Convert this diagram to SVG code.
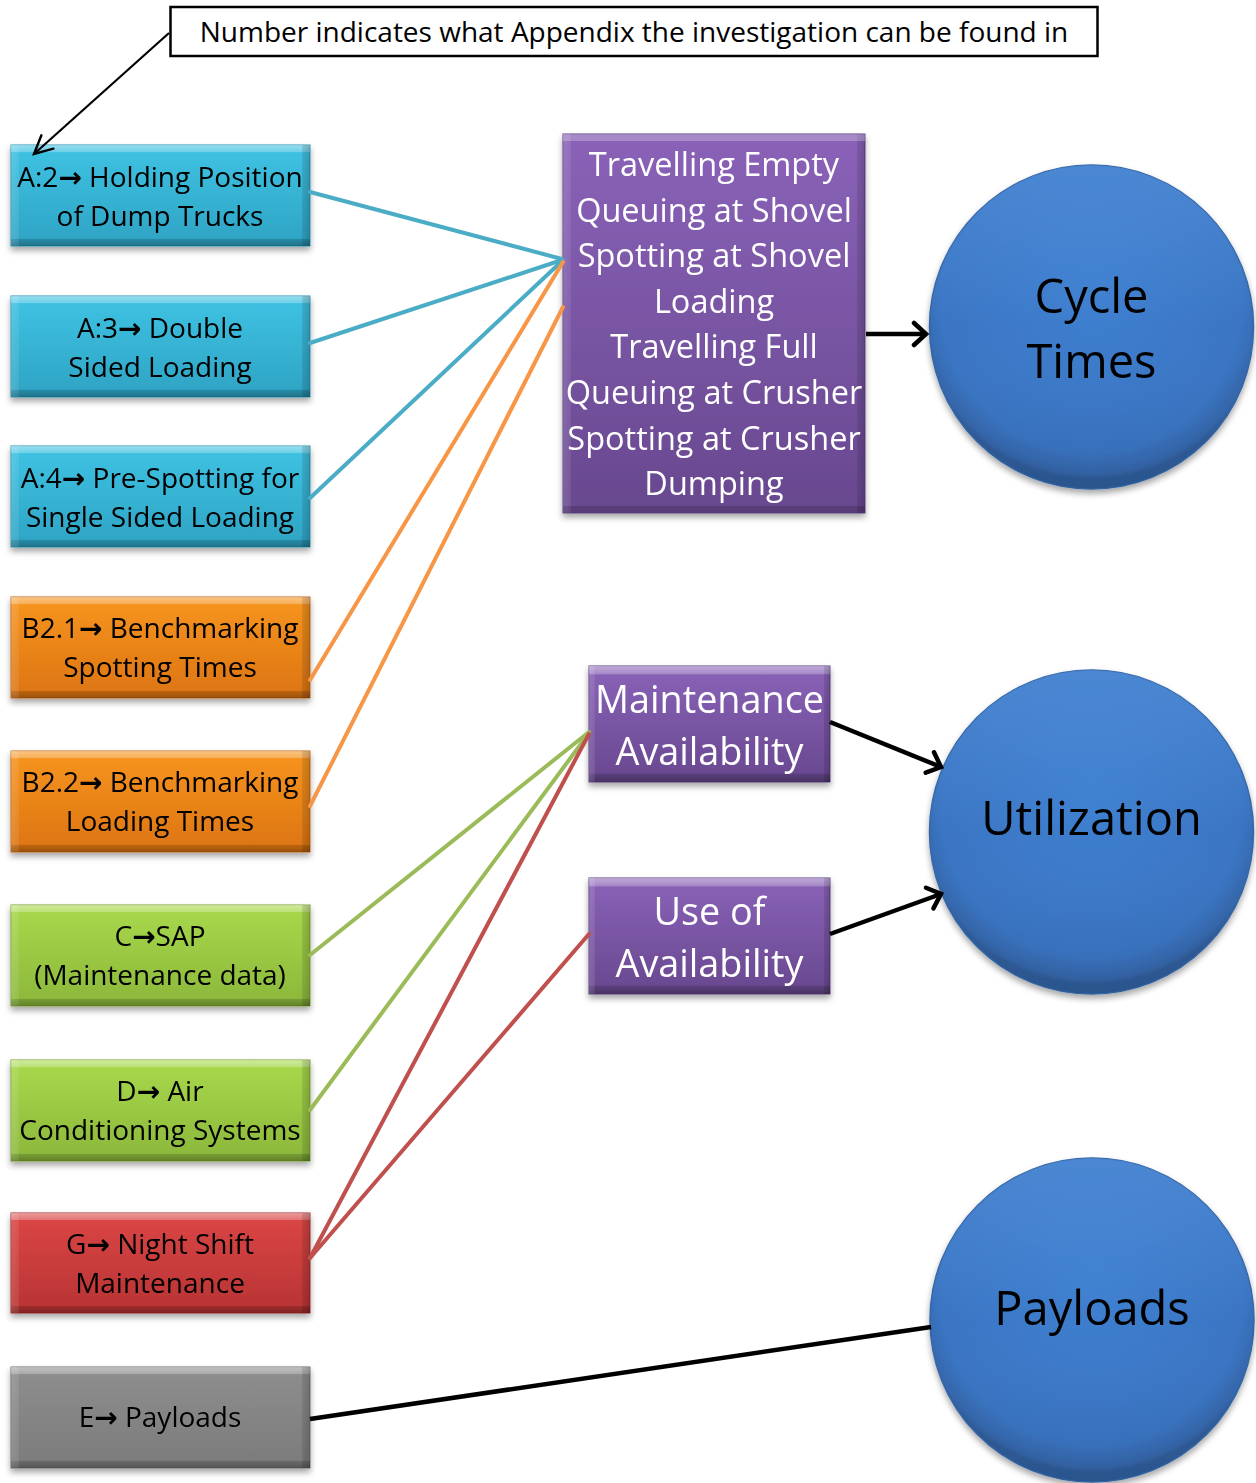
<svg xmlns="http://www.w3.org/2000/svg" width="1256" height="1483" viewBox="0 0 1256 1483">
<style>
  text { font-family: "Open Sans", "DejaVu Sans", sans-serif; text-anchor: middle; }
  .lt { font-size: 28px; fill: #000; }
  .ar { font-family: "DejaVu Sans", sans-serif; font-weight: bold; }
  .pt { font-size: 32.5px; fill: #fff; }
  .pt2 { font-size: 37.8px; fill: #fff; }
  .ct { font-size: 47px; fill: #000; }
  .note { font-size: 28px; fill: #000; }
  .conn { fill: none; stroke-width: 4; stroke-linecap: round; }
  .cb { stroke: #4bacc6; }
  .co { stroke: #f79646; }
  .cg { stroke: #9bbb59; }
  .cr { stroke: #c0504d; }
  .blk { fill: none; stroke: #000; stroke-width: 4.5; }
  .bv { fill: url(#bevV); }
  .bh { fill: url(#bevH); }
</style>
<defs>
  <filter id="sh" x="-10%" y="-10%" width="120%" height="130%">
    <feDropShadow dx="0" dy="4" stdDeviation="3" flood-color="#000" flood-opacity="0.35"/>
  </filter>
  <linearGradient id="gBlue" x1="0" y1="0" x2="0" y2="1">
    <stop offset="0" stop-color="#3fc3e3"/><stop offset="1" stop-color="#2ea3c4"/>
  </linearGradient>
  <linearGradient id="gOrange" x1="0" y1="0" x2="0" y2="1">
    <stop offset="0" stop-color="#f7951f"/><stop offset="1" stop-color="#dc7412"/>
  </linearGradient>
  <linearGradient id="gGreen" x1="0" y1="0" x2="0" y2="1">
    <stop offset="0" stop-color="#a8d94b"/><stop offset="1" stop-color="#8bb73b"/>
  </linearGradient>
  <linearGradient id="gRed" x1="0" y1="0" x2="0" y2="1">
    <stop offset="0" stop-color="#db4646"/><stop offset="1" stop-color="#b83333"/>
  </linearGradient>
  <linearGradient id="gGray" x1="0" y1="0" x2="0" y2="1">
    <stop offset="0" stop-color="#8e8e8e"/><stop offset="1" stop-color="#7b7b7b"/>
  </linearGradient>
  <linearGradient id="gPurple" x1="0" y1="0" x2="0" y2="1">
    <stop offset="0" stop-color="#8a62b8"/><stop offset="1" stop-color="#68488f"/>
  </linearGradient>
  <linearGradient id="bevV" x1="0" y1="0" x2="0" y2="1">
    <stop offset="0" stop-color="#fff" stop-opacity="0.45"/>
    <stop offset="0.07" stop-color="#fff" stop-opacity="0.25"/>
    <stop offset="0.075" stop-color="#fff" stop-opacity="0"/>
    <stop offset="0.925" stop-color="#000" stop-opacity="0"/>
    <stop offset="0.93" stop-color="#000" stop-opacity="0.15"/>
    <stop offset="1" stop-color="#000" stop-opacity="0.3"/>
  </linearGradient>
  <linearGradient id="bevH" x1="0" y1="0" x2="1" y2="0">
    <stop offset="0" stop-color="#fff" stop-opacity="0.15"/>
    <stop offset="0.025" stop-color="#fff" stop-opacity="0.08"/>
    <stop offset="0.027" stop-color="#fff" stop-opacity="0"/>
    <stop offset="0.973" stop-color="#000" stop-opacity="0"/>
    <stop offset="0.975" stop-color="#000" stop-opacity="0.1"/>
    <stop offset="1" stop-color="#000" stop-opacity="0.2"/>
  </linearGradient>
  <radialGradient id="gCircle" cx="0.5" cy="0.42" r="0.55">
    <stop offset="0" stop-color="#3e7fcf"/>
    <stop offset="0.85" stop-color="#3a75c3"/>
    <stop offset="0.97" stop-color="#3567ac"/>
    <stop offset="1" stop-color="#2f5c99"/>
  </radialGradient>
  <linearGradient id="gCircleTop" x1="0" y1="0" x2="0" y2="1">
    <stop offset="0" stop-color="#6aa8ee" stop-opacity="0.35"/>
    <stop offset="0.5" stop-color="#6aa8ee" stop-opacity="0"/>
    <stop offset="1" stop-color="#000" stop-opacity="0.08"/>
  </linearGradient>
  <marker id="arr" viewBox="-16 -14 20 28" refX="0" refY="0" markerWidth="20" markerHeight="28" markerUnits="userSpaceOnUse" orient="auto">
    <path d="M-12,-11 L0,0 L-12,11" fill="none" stroke="#000" stroke-width="4.5" stroke-linecap="round"/>
  </marker>
  <marker id="arrThin" viewBox="-24 -12 28 24" refX="0" refY="0" markerWidth="28" markerHeight="24" markerUnits="userSpaceOnUse" orient="auto">
    <path d="M-18,-9 L0,0 L-18,9" fill="none" stroke="#000" stroke-width="2.4" stroke-linecap="round"/>
  </marker>
</defs>

<rect width="1256" height="1483" fill="#fff"/>

<!-- Note -->
<g id="note">
  <rect x="170.5" y="7" width="927" height="49" fill="#fff" stroke="#000" stroke-width="2.5"/>
  <text class="note" x="634" y="42">Number indicates what Appendix the investigation can be found in</text>
</g>

<!-- Left boxes -->
<g id="n-a2" filter="url(#sh)">
  <rect x="11" y="145" width="299" height="101" fill="url(#gBlue)" stroke="#2a97b6" stroke-width="1"/>
  <rect x="11" y="145" width="299" height="101" class="bv"/>
  <rect x="11" y="145" width="299" height="101" class="bh"/>
  <text class="lt" x="160" y="187">A:2<tspan class="ar">→</tspan> Holding Position</text>
  <text class="lt" x="160" y="226">of Dump Trucks</text>
</g>
<g id="n-a3" filter="url(#sh)">
  <rect x="11" y="296" width="299" height="101" fill="url(#gBlue)" stroke="#2a97b6" stroke-width="1"/>
  <rect x="11" y="296" width="299" height="101" class="bv"/>
  <rect x="11" y="296" width="299" height="101" class="bh"/>
  <text class="lt" x="160" y="338">A:3<tspan class="ar">→</tspan> Double</text>
  <text class="lt" x="160" y="377">Sided Loading</text>
</g>
<g id="n-a4" filter="url(#sh)">
  <rect x="11" y="446" width="299" height="101" fill="url(#gBlue)" stroke="#2a97b6" stroke-width="1"/>
  <rect x="11" y="446" width="299" height="101" class="bv"/>
  <rect x="11" y="446" width="299" height="101" class="bh"/>
  <text class="lt" x="160" y="488">A:4<tspan class="ar">→</tspan> Pre-Spotting for</text>
  <text class="lt" x="160" y="527">Single Sided Loading</text>
</g>
<g id="n-b21" filter="url(#sh)">
  <rect x="11" y="597" width="299" height="101" fill="url(#gOrange)" stroke="#c9690f" stroke-width="1"/>
  <rect x="11" y="597" width="299" height="101" class="bv"/>
  <rect x="11" y="597" width="299" height="101" class="bh"/>
  <text class="lt" x="160" y="638">B2.1<tspan class="ar">→</tspan> Benchmarking</text>
  <text class="lt" x="160" y="677">Spotting Times</text>
</g>
<g id="n-b22" filter="url(#sh)">
  <rect x="11" y="751" width="299" height="101" fill="url(#gOrange)" stroke="#c9690f" stroke-width="1"/>
  <rect x="11" y="751" width="299" height="101" class="bv"/>
  <rect x="11" y="751" width="299" height="101" class="bh"/>
  <text class="lt" x="160" y="792">B2.2<tspan class="ar">→</tspan> Benchmarking</text>
  <text class="lt" x="160" y="831">Loading Times</text>
</g>
<g id="n-c" filter="url(#sh)">
  <rect x="11" y="905" width="299" height="101" fill="url(#gGreen)" stroke="#7ea535" stroke-width="1"/>
  <rect x="11" y="905" width="299" height="101" class="bv"/>
  <rect x="11" y="905" width="299" height="101" class="bh"/>
  <text class="lt" x="160" y="946">C<tspan class="ar">→</tspan>SAP</text>
  <text class="lt" x="160" y="985">(Maintenance data)</text>
</g>
<g id="n-d" filter="url(#sh)">
  <rect x="11" y="1060" width="299" height="101" fill="url(#gGreen)" stroke="#7ea535" stroke-width="1"/>
  <rect x="11" y="1060" width="299" height="101" class="bv"/>
  <rect x="11" y="1060" width="299" height="101" class="bh"/>
  <text class="lt" x="160" y="1101">D<tspan class="ar">→</tspan> Air</text>
  <text class="lt" x="160" y="1140">Conditioning Systems</text>
</g>
<g id="n-g" filter="url(#sh)">
  <rect x="11" y="1213" width="299" height="100" fill="url(#gRed)" stroke="#a82e2e" stroke-width="1"/>
  <rect x="11" y="1213" width="299" height="100" class="bv"/>
  <rect x="11" y="1213" width="299" height="100" class="bh"/>
  <text class="lt" x="160" y="1254">G<tspan class="ar">→</tspan> Night Shift</text>
  <text class="lt" x="160" y="1293">Maintenance</text>
</g>
<g id="n-e" filter="url(#sh)">
  <rect x="11" y="1367" width="299" height="101" fill="url(#gGray)" stroke="#6e6e6e" stroke-width="1"/>
  <rect x="11" y="1367" width="299" height="101" class="bv"/>
  <rect x="11" y="1367" width="299" height="101" class="bh"/>
  <text class="lt" x="160" y="1427">E<tspan class="ar">→</tspan> Payloads</text>
</g>

<!-- Purple boxes -->
<g id="n-cycle-steps" filter="url(#sh)">
  <rect x="563" y="134" width="302" height="379" fill="url(#gPurple)" stroke="#5f4283" stroke-width="1"/>
  <rect x="563" y="134" width="302" height="379" fill="url(#bevH)"/>
  <rect x="563" y="134" width="302" height="7" fill="#fff" opacity="0.25"/>
  <rect x="563" y="506" width="302" height="7" fill="#000" opacity="0.15"/>
  <text class="pt" x="714" y="176">Travelling Empty</text>
  <text class="pt" x="714" y="222">Queuing at Shovel</text>
  <text class="pt" x="714" y="267">Spotting at Shovel</text>
  <text class="pt" x="714" y="313">Loading</text>
  <text class="pt" x="714" y="358">Travelling Full</text>
  <text class="pt" x="714" y="404">Queuing at Crusher</text>
  <text class="pt" x="714" y="450">Spotting at Crusher</text>
  <text class="pt" x="714" y="495">Dumping</text>
</g>
<g id="n-maint" filter="url(#sh)">
  <rect x="589" y="666" width="241" height="116" fill="url(#gPurple)" stroke="#5f4283" stroke-width="1"/>
  <rect x="589" y="666" width="241" height="116" class="bv"/>
  <rect x="589" y="666" width="241" height="116" class="bh"/>
  <text class="pt2" x="709.5" y="713">Maintenance</text>
  <text class="pt2" x="709.5" y="765">Availability</text>
</g>
<g id="n-use" filter="url(#sh)">
  <rect x="589" y="878" width="241" height="116" fill="url(#gPurple)" stroke="#5f4283" stroke-width="1"/>
  <rect x="589" y="878" width="241" height="116" class="bv"/>
  <rect x="589" y="878" width="241" height="116" class="bh"/>
  <text class="pt2" x="709.5" y="925">Use of</text>
  <text class="pt2" x="709.5" y="977">Availability</text>
</g>

<!-- Circles -->
<g id="n-cycle-times" filter="url(#sh)">
  <circle cx="1091.5" cy="327" r="162" fill="url(#gCircle)" stroke="#3466a8" stroke-width="1.5"/>
  <circle cx="1091.5" cy="327" r="162" fill="url(#gCircleTop)"/>
  <text class="ct" x="1091.5" y="313">Cycle</text>
  <text class="ct" x="1091.5" y="378">Times</text>
</g>
<g id="n-utilization" filter="url(#sh)">
  <circle cx="1091.5" cy="832" r="162" fill="url(#gCircle)" stroke="#3466a8" stroke-width="1.5"/>
  <circle cx="1091.5" cy="832" r="162" fill="url(#gCircleTop)"/>
  <text class="ct" x="1091.5" y="835">Utilization</text>
</g>
<g id="n-payloads" filter="url(#sh)">
  <circle cx="1092" cy="1320" r="162" fill="url(#gCircle)" stroke="#3466a8" stroke-width="1.5"/>
  <circle cx="1092" cy="1320" r="162" fill="url(#gCircleTop)"/>
  <text class="ct" x="1092" y="1325">Payloads</text>
</g>

<!-- Connectors -->
<g id="connectors">
  <line class="conn cb" x1="310" y1="192" x2="562" y2="259"/>
  <line class="conn cb" x1="310" y1="343" x2="562" y2="260"/>
  <line class="conn cb" x1="310" y1="498" x2="562" y2="261"/>
  <line class="conn co" x1="310" y1="680" x2="563" y2="262"/>
  <line class="conn co" x1="310" y1="806" x2="563" y2="307"/>
  <line class="conn cg" x1="310" y1="955" x2="589" y2="732"/>
  <line class="conn cg" x1="310" y1="1110" x2="589" y2="733"/>
  <line class="conn cr" x1="310" y1="1258" x2="589" y2="734"/>
  <line class="conn cr" x1="310" y1="1258" x2="589" y2="934"/>
  <line class="blk" x1="866" y1="334" x2="926" y2="334" marker-end="url(#arr)"/>
  <line class="blk" x1="830" y1="722" x2="941" y2="767" marker-end="url(#arr)"/>
  <line class="blk" x1="830" y1="934" x2="941" y2="894" marker-end="url(#arr)"/>
  <line class="blk" x1="310" y1="1419" x2="931" y2="1327"/>
  <line x1="169" y1="33" x2="34" y2="154" stroke="#000" stroke-width="2.2" marker-end="url(#arrThin)"/>
</g>
</svg>
